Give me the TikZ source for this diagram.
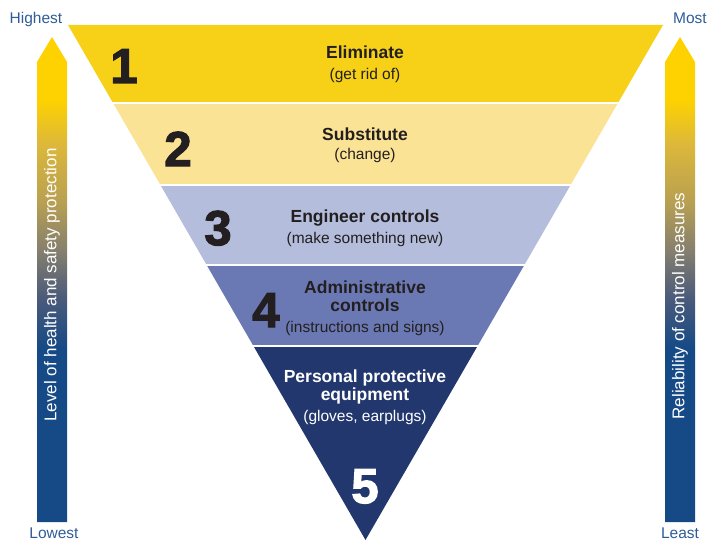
\documentclass[tikz,border=0pt]{standalone}
\usepackage{fontspec}
\setmainfont{Liberation Sans}
\newfontfamily\numfont{Liberation Sans Bold}[FakeBold=2.5]
\usetikzlibrary{positioning}

\definecolor{elimyellow}{HTML}{F6D117}
\definecolor{substyellow}{HTML}{FBE395}
\definecolor{engblue}{HTML}{B4BDDB}
\definecolor{adminblue}{HTML}{6A79B3}
\definecolor{ppenavy}{HTML}{22376D}
\definecolor{inkblack}{HTML}{231F20}
\definecolor{labelblue}{HTML}{2F5C99}
\definecolor{shadeblue}{HTML}{164A86}
\definecolor{shadeslate}{HTML}{4A5A7A}
\definecolor{shadegrey}{HTML}{857F6E}
\definecolor{shadeolive}{HTML}{B8A052}
\definecolor{shadegold}{HTML}{DDB83A}
\definecolor{shadeyellow}{HTML}{FDD200}

\pgfdeclareverticalshading{levelshade}{100bp}{color(0bp)=(shadeblue); color(43bp)=(shadeblue); color(48bp)=(shadeslate); color(53bp)=(shadegrey); color(58bp)=(shadeolive); color(64bp)=(shadegold); color(68.5bp)=(shadeyellow); color(100bp)=(shadeyellow)}

\tikzset{
  hazard title/.style = {anchor=base, inner sep=0pt, align=center, text=inkblack, font=\bfseries\fontsize{17.5}{18}\selectfont},
  hazard note/.style  = {anchor=base, inner sep=0pt, text=inkblack, font=\fontsize{15.5}{18}\selectfont},
  hazard num/.style   = {anchor=base, inner sep=0pt, text=inkblack, font=\numfont\fontsize{49}{49}\selectfont},
  scale label/.style  = {anchor=base, inner sep=0pt, text=labelblue, font=\fontsize{15.5}{18}\selectfont},
  scale text/.style   = {rotate=90, inner sep=0pt, text=white, font=\fontsize{17}{18}\selectfont},
  scale arrow/.style  = {shading=levelshade}
}

\begin{document}
\begin{tikzpicture}[x=1pt, y=-1pt]
\useasboundingbox (0,0) rectangle (708,540);

% inverted triangle, cut into five bands
\coordinate (tl) at (68,25);
\coordinate (tr) at (663,25);
\coordinate (apex) at (365.5,540);
\foreach \ytop/\ybot/\col in {25/102/elimyellow, 105/183/substyellow, 186/263/engblue, 266/344/adminblue, 347/541/ppenavy}
{
  \begin{scope}
    \clip (0,\ytop) rectangle (708,\ybot);
    \fill [\col] (tl) -- (tr) -- (apex) -- cycle;
  \end{scope}
}

% numbers
\node [hazard num] (n1) at (124,83) {1};
\node [hazard num] (n2) at (178,166) {2};
\node [hazard num] (n3) at (218,245) {3};
\node [hazard num] (n4) at (266,327) {4};
\node [hazard num, text=white] (n5) at (365,503) {5};

% band texts (two-line titles sit on their last line)
\node [hazard title] (elim) at (365,59) {Eliminate};
\node [hazard note] (elimnote) at (365,80) {(get rid of)};
\node [hazard title] (subst) at (365,140) {Substitute};
\node [hazard note] (substnote) at (365,160) {(change)};
\node [hazard title] (eng) at (365,222) {Engineer controls};
\node [hazard note] (engnote) at (365,243) {(make something new)};
\node [hazard title] (admin) at (365,311) {Administrative\\controls};
\node [hazard note] (adminnote) at (365,332) {(instructions and signs)};
\node [hazard title, text=white] (ppe) at (365,400) {Personal protective\\equipment};
\node [hazard note, text=white] (ppenote) at (365,421) {(gloves, earplugs)};

% side scales
\shade [scale arrow] (37,522) -- (37,62) -- (52,37) -- (67,62) -- (67,522) -- cycle;
\shade [scale arrow] (665,522) -- (665,62) -- (680,37) -- (695,62) -- (695,522) -- cycle;
\node [scale text] (protection) at (52,285) {Level of health and safety protection};
\node [scale text] (reliability) at (680,306) {Reliability of control measures};
\node [scale label] (highest) at (36,24) {Highest};
\node [scale label] (lowest) at (54,538) {Lowest};
\node [scale label] (most) at (690,24) {Most};
\node [scale label] (least) at (680,538) {Least};
\end{tikzpicture}
\end{document}
